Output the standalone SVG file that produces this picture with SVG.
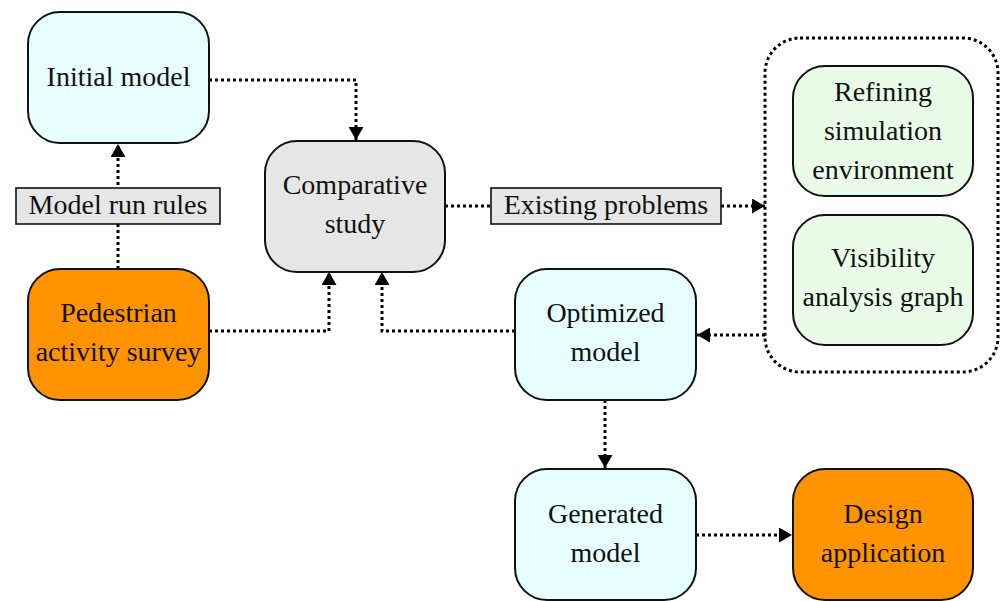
<svg xmlns="http://www.w3.org/2000/svg" width="1003" height="601" viewBox="0 0 1003 601">
<style>
.node{stroke:#111;stroke-width:2}
.cyan{fill:#e6fefe}
.gray{fill:#e6e6e6}
.orange{fill:#ff9400}
.green{fill:#e8fce8}
.lbl{fill:#e6e6e6;stroke:#111;stroke-width:1.6}
text{font-family:"Liberation Serif","DejaVu Serif",serif;font-size:28px;fill:#111;text-anchor:middle}
.conn{fill:none;stroke:#000;stroke-width:3;stroke-dasharray:3 3}
.grp{fill:none;stroke:#000;stroke-width:3;stroke-dasharray:3 3}
</style>
<defs>
<marker id="arr" viewBox="0 0 13 15" refX="13" refY="7.5" markerWidth="13" markerHeight="15" markerUnits="userSpaceOnUse" orient="auto">
<path d="M0,0 L13,7.5 L0,15 Z" fill="#000"/>
</marker>
</defs>
<g id="connectors">
<path class="conn" d="M209,80 H356 V140" marker-end="url(#arr)"/>
<path class="conn" d="M118,269 V144" marker-end="url(#arr)"/>
<path class="conn" d="M209,331 H329 V272" marker-end="url(#arr)"/>
<path class="conn" d="M515,331 H382 V272" marker-end="url(#arr)"/>
<path class="conn" d="M445,206 H765" marker-end="url(#arr)"/>
<path class="conn" d="M765,335 H697" marker-end="url(#arr)"/>
<path class="conn" d="M605,400 V468" marker-end="url(#arr)"/>
<path class="conn" d="M696,535 H792" marker-end="url(#arr)"/>
</g>
<g id="label-model-run-rules">
<rect class="lbl" x="16" y="188" width="204" height="36"/>
<text x="118" y="214">Model run rules</text>
</g>
<g id="label-existing-problems">
<rect class="lbl" x="491" y="188" width="230" height="36"/>
<text x="606" y="214">Existing problems</text>
</g>
<g id="group-box">
<rect class="grp" x="765" y="38" width="233" height="334" rx="35"/>
</g>
<g id="initial-model">
<rect class="node cyan" x="28" y="12" width="181" height="131" rx="32"/>
<text x="118.5" y="86">Initial model</text>
</g>
<g id="comparative-study">
<rect class="node gray" x="265" y="141" width="180" height="131" rx="32"/>
<text x="355" y="194">Comparative</text>
<text x="355" y="233">study</text>
</g>
<g id="pedestrian-activity-survey">
<rect class="node orange" x="28" y="269" width="181" height="131" rx="32"/>
<text x="118.5" y="322">Pedestrian</text>
<text x="118.5" y="361">activity survey</text>
</g>
<g id="optimized-model">
<rect class="node cyan" x="515" y="269" width="181" height="131" rx="32"/>
<text x="605.5" y="322">Optimized</text>
<text x="605.5" y="361">model</text>
</g>
<g id="generated-model">
<rect class="node cyan" x="515" y="469" width="181" height="131" rx="32"/>
<text x="605.5" y="523">Generated</text>
<text x="605.5" y="562">model</text>
</g>
<g id="design-application">
<rect class="node orange" x="793" y="469" width="180" height="131" rx="32"/>
<text x="883" y="523">Design</text>
<text x="883" y="562">application</text>
</g>
<g id="refining-simulation-environment">
<rect class="node green" x="793" y="66" width="180" height="130" rx="32"/>
<text x="883" y="101">Refining</text>
<text x="883" y="140">simulation</text>
<text x="883" y="179">environment</text>
</g>
<g id="visibility-analysis-graph">
<rect class="node green" x="793" y="215" width="180" height="130" rx="32"/>
<text x="883" y="267">Visibility</text>
<text x="883" y="306">analysis graph</text>
</g>
</svg>
